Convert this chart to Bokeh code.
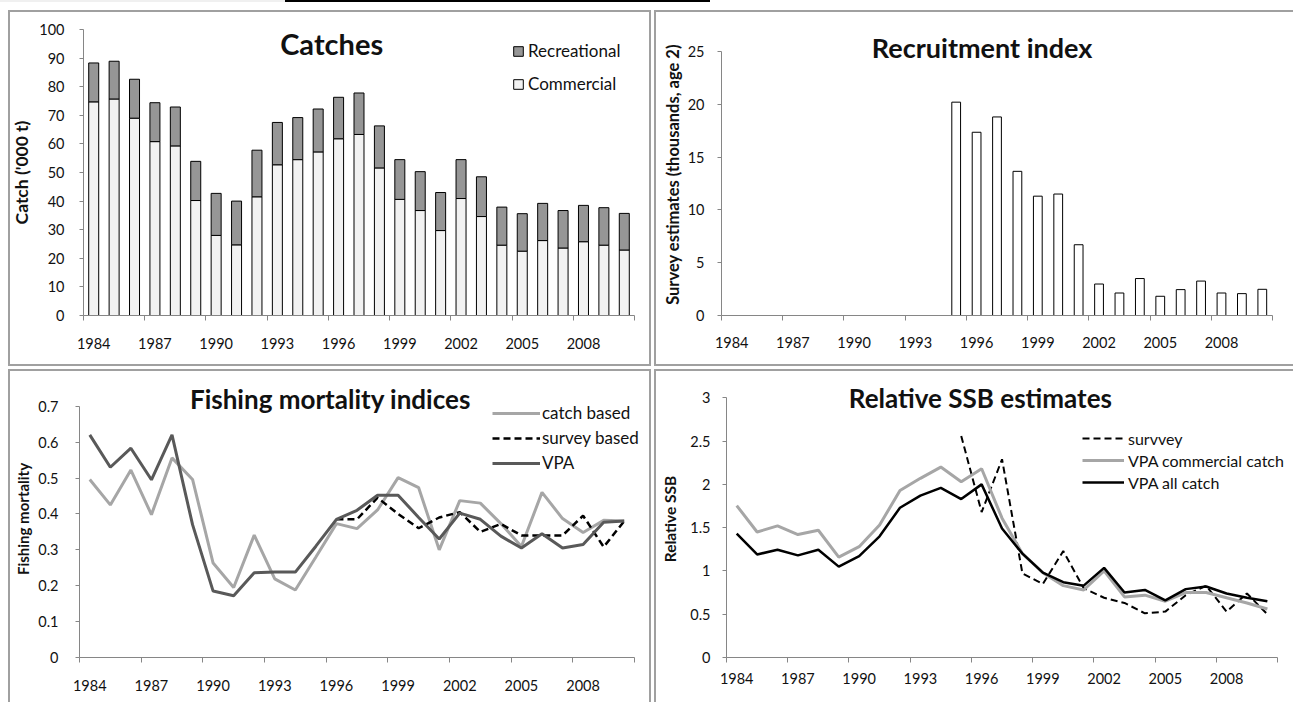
from bokeh.plotting import figure
from bokeh.models import (ColumnDataSource, FixedTicker, Label, Legend, LegendItem,
                          NumeralTickFormatter, Range1d, Spacer, Div)
from bokeh.layouts import column, row
from bokeh.embed import file_html
from bokeh.resources import INLINE

# ---------------- data ----------------
years = [1984, 1985, 1986, 1987, 1988, 1989, 1990, 1991, 1992, 1993, 1994, 1995, 1996,
         1997, 1998, 1999, 2000, 2001, 2002, 2003, 2004, 2005, 2006, 2007, 2008, 2009, 2010]

commercial = [74.7, 75.7, 69.0, 60.8, 59.3, 40.2, 28.0, 24.7, 41.5, 52.7, 54.5, 57.2, 61.8,
              63.3, 51.6, 40.6, 36.7, 29.7, 40.9, 34.6, 24.6, 22.5, 26.2, 23.6, 25.8, 24.6, 22.9]
recreational = [13.6, 13.2, 13.6, 13.6, 13.6, 13.7, 14.7, 15.3, 16.3, 14.8, 14.7, 15.0, 14.5,
                14.5, 14.7, 13.9, 13.6, 13.3, 13.6, 13.9, 13.3, 13.1, 13.0, 13.1, 12.7, 13.1, 12.8]

rec_years = [1995, 1996, 1997, 1998, 1999, 2000, 2001, 2002, 2003, 2004, 2005, 2006, 2007,
             2008, 2009, 2010]
recruitment = [20.2, 17.35, 18.8, 13.65, 11.3, 11.5, 6.7, 2.98, 2.13, 3.5, 1.82, 2.45, 3.26,
               2.13, 2.07, 2.48]

f_catch = [0.496, 0.425, 0.522, 0.398, 0.556, 0.496, 0.263, 0.195, 0.341, 0.219, 0.188, 0.28,
           0.373, 0.359, 0.411, 0.501, 0.473, 0.300, 0.437, 0.430, 0.373, 0.309, 0.460, 0.387,
           0.348, 0.382, 0.380]
f_vpa = [0.62, 0.53, 0.583, 0.495, 0.62, 0.37, 0.185, 0.172, 0.236, 0.238, 0.238, 0.31, 0.385,
         0.41, 0.452, 0.452, 0.39, 0.33, 0.402, 0.385, 0.338, 0.305, 0.345, 0.305, 0.315,
         0.377, 0.38]
f_survey_years = [1996, 1997, 1998, 1999, 2000, 2001, 2002, 2003, 2004, 2005, 2006, 2007,
                  2008, 2009, 2010]
f_survey = [0.385, 0.385, 0.445, 0.40, 0.36, 0.39, 0.405, 0.35, 0.372, 0.34, 0.34, 0.34,
            0.395, 0.308, 0.38]

ssb_comm = [1.755, 1.45, 1.52, 1.42, 1.47, 1.16, 1.28, 1.53, 1.93, 2.07, 2.20, 2.03, 2.18,
            1.61, 1.20, 0.98, 0.83, 0.78, 1.00, 0.70, 0.72, 0.65, 0.75, 0.75, 0.69, 0.63, 0.56]
ssb_all = [1.43, 1.19, 1.245, 1.18, 1.245, 1.05, 1.17, 1.40, 1.73, 1.87, 1.96, 1.83, 2.00,
           1.49, 1.20, 0.98, 0.87, 0.83, 1.035, 0.75, 0.78, 0.66, 0.79, 0.82, 0.74, 0.69, 0.65]
ssb_survey_years = [1995, 1996, 1997, 1998, 1999, 2000, 2001, 2002, 2003, 2004, 2005, 2006,
                    2007, 2008, 2009, 2010]
ssb_survey = [2.56, 1.68, 2.29, 0.97, 0.85, 1.23, 0.80, 0.69, 0.63, 0.51, 0.53, 0.72, 0.83,
              0.53, 0.74, 0.50]

x_tick_years = years[::3]

# ---------------- styling ----------------
FONT = "Lato"
AXIS_COL = "#868686"
BORDER = "#a0a0a0"
TICK_FS = "14.5px"
TXT = "#111111"


def make_fig(w, h, ml, mr, mt, mb, y_end, ymax, yticks, shadow, x_end=None):
    x0 = years[0] - 0.5
    x1 = years[-1] + 0.5
    p = figure(width=w, height=h, x_range=Range1d(x0, x_end if x_end else x1),
               y_range=Range1d(0, y_end), output_backend="svg", toolbar_location=None,
               title=None, min_border_left=ml, min_border_right=mr, min_border_top=mt,
               min_border_bottom=mb)
    p.xgrid.visible = False
    p.ygrid.visible = False
    p.outline_line_color = None
    p.border_fill_color = None
    p.background_fill_color = None
    p.styles = {"background-color": "white", "box-shadow": shadow}
    xa = p.xaxis[0]
    bounds = [y - 0.5 for y in x_tick_years] + [x1]
    xa.ticker = FixedTicker(ticks=x_tick_years, minor_ticks=bounds)
    xa.bounds = (x0, x1)
    xa.major_tick_line_color = None
    xa.major_tick_out = 0
    xa.major_tick_in = 0
    xa.minor_tick_out = 5
    xa.minor_tick_in = 0
    xa.minor_tick_line_color = AXIS_COL
    xa.axis_line_color = AXIS_COL
    xa.major_label_text_font = FONT
    xa.major_label_text_font_size = TICK_FS
    xa.major_label_text_color = TXT
    ya = p.yaxis[0]
    ya.ticker = FixedTicker(ticks=yticks)
    ya.bounds = (0, ymax)
    ya.formatter = NumeralTickFormatter(format="0.[0]")
    ya.major_tick_out = 4
    ya.major_tick_in = 0
    ya.minor_tick_line_color = None
    ya.major_tick_line_color = AXIS_COL
    ya.axis_line_color = AXIS_COL
    ya.major_label_text_font = FONT
    ya.major_label_text_font_size = TICK_FS
    ya.major_label_text_color = TXT
    ya.axis_label_text_font = FONT
    ya.axis_label_text_font_style = "bold"
    ya.axis_label_text_color = TXT
    return p


def add_title(p, text, x, y, size):
    p.add_layout(Label(x=x, y=y, text=text, text_align="center", text_baseline="middle",
                       text_font=FONT, text_font_style="bold", text_font_size=size,
                       text_color=TXT))


def style_legend(items, loc, gw, gh, spacing, standoff, fs):
    return Legend(items=items, location=loc, orientation="vertical", padding=0, margin=0,
                  spacing=spacing, glyph_width=gw, glyph_height=gh, label_height=20,
                  label_standoff=standoff, label_text_font=FONT, label_text_font_size=fs,
                  label_text_color=TXT, border_line_color=None,
                  background_fill_alpha=0)


SH_TL = f"inset 2px 2px 0 0 {BORDER}, inset -2px -2px 0 0 {BORDER}"
SH_TR = f"inset 2px 2px 0 0 {BORDER}, inset 0 -2px 0 0 {BORDER}"
SH_BL = f"inset 2px 2px 0 0 {BORDER}, inset -2px 0 0 0 {BORDER}"
SH_BR = f"inset 2px 2px 0 0 {BORDER}"

# ---------------- Catches ----------------
p1 = make_fig(643, 356, 73, 17, 19, 51, 100, 100,
              [0, 10, 20, 30, 40, 50, 60, 70, 80, 90, 100], SH_TL)
src1 = ColumnDataSource(dict(year=years, commercial=commercial, recreational=recreational))
r_stack = p1.vbar_stack(["commercial", "recreational"], x="year", width=0.49, source=src1,
                        fill_color=["#f2f2f2", "#969696"], line_color="#000000", line_width=1)
p1.yaxis[0].axis_label = "Catch ('000 t)"
p1.yaxis[0].axis_label_text_font_size = "17.5px"
p1.yaxis[0].major_label_standoff = 15
p1.yaxis[0].axis_label_standoff = 4
p1.xaxis[0].major_label_standoff = 17
add_title(p1, "Catches", 1995.66, 95.1, "29px")
p1.add_layout(style_legend([LegendItem(label="Recreational", renderers=[r_stack[1]]),
                            LegendItem(label="Commercial", renderers=[r_stack[0]])],
                           (429, 221), 12, 12, 12, 4, "17px"))

# ---------------- Recruitment ----------------
p2 = make_fig(639, 356, 67, 21, 19, 51, 27.08, 25, [0, 5, 10, 15, 20, 25], SH_TR)
src2 = ColumnDataSource(dict(year=rec_years, value=recruitment))
p2.vbar(x="year", top="value", width=0.43, source=src2, fill_color="white",
        line_color="#000000", line_width=1)
p2.yaxis[0].axis_label = "Survey estimates  (thousands, age 2)"
p2.yaxis[0].axis_label_text_font_size = "16.5px"
p2.yaxis[0].major_label_standoff = 13
p2.yaxis[0].axis_label_standoff = 2
p2.xaxis[0].major_label_standoff = 16
add_title(p2, "Recruitment index", 1996.27, 25.38, "27px")

# ---------------- Fishing mortality ----------------
p3 = make_fig(643, 333, 71, 2, 11, 45, 0.7716, 0.7,
              [0, 0.1, 0.2, 0.3, 0.4, 0.5, 0.6, 0.7], SH_BL, x_end=2011.23)
src3 = ColumnDataSource(dict(year=years, catch=f_catch, vpa=f_vpa))
src3s = ColumnDataSource(dict(year=f_survey_years, survey=f_survey))
r_fc = p3.line("year", "catch", source=src3, line_color="#a6a6a6", line_width=3)
r_fs = p3.line("year", "survey", source=src3s, line_color="#000000", line_width=2.5,
               line_dash="7 4")
r_fv = p3.line("year", "vpa", source=src3, line_color="#595959", line_width=3)
p3.yaxis[0].axis_label = "Fishing mortality"
p3.yaxis[0].axis_label_text_font_size = "15px"
p3.yaxis[0].major_label_standoff = 17
p3.yaxis[0].axis_label_standoff = 3
p3.xaxis[0].major_label_standoff = 17
add_title(p3, "Fishing mortality indices", 1995.71, 0.7214, "26px")
p3.add_layout(style_legend([LegendItem(label="catch based", renderers=[r_fc]),
                            LegendItem(label="survey based", renderers=[r_fs]),
                            LegendItem(label="VPA", renderers=[r_fv])],
                           (413, 184), 48, 20, 4, 2, "17px"))

# ---------------- SSB ----------------
p4 = make_fig(639, 333, 72, 0, 11, 45, 3.2, 3, [0, 0.5, 1, 1.5, 2, 2.5, 3], SH_BR,
              x_end=2011.28)
src4 = ColumnDataSource(dict(year=years, comm=ssb_comm, allc=ssb_all))
src4s = ColumnDataSource(dict(year=ssb_survey_years, survey=ssb_survey))
r_ss = p4.line("year", "survey", source=src4s, line_color="#000000", line_width=2,
               line_dash="7 4")
r_sc = p4.line("year", "comm", source=src4, line_color="#a6a6a6", line_width=3)
r_sa = p4.line("year", "allc", source=src4, line_color="#000000", line_width=2.5)
p4.yaxis[0].axis_label = "Relative SSB"
p4.yaxis[0].axis_label_text_font_size = "15.5px"
p4.yaxis[0].major_label_standoff = 12
p4.yaxis[0].axis_label_standoff = 8
p4.xaxis[0].major_label_standoff = 10
add_title(p4, "Relative SSB estimates", 1995.94, 3.003, "26px")
p4.add_layout(style_legend([LegendItem(label="survvey", renderers=[r_ss]),
                            LegendItem(label="VPA commercial catch", renderers=[r_sc]),
                            LegendItem(label="VPA all catch", renderers=[r_sa])],
                           (356, 165), 42, 20, 2, 4, "16px"))

top_strip = Div(text="", width=1293, height=2, margin=0,
                styles={"background": "linear-gradient(to right, #f0f0f0 0px, #f0f0f0 285px, "
                                      "#000000 285px, #000000 710px, #ffffff 710px)"})

layout = column(top_strip,
                Spacer(height=8),
                row(Spacer(width=8), p1, Spacer(width=3), p2),
                Spacer(height=3),
                row(Spacer(width=8), p3, Spacer(width=3), p4))

open("out.html", "w").write(file_html(layout, INLINE))
